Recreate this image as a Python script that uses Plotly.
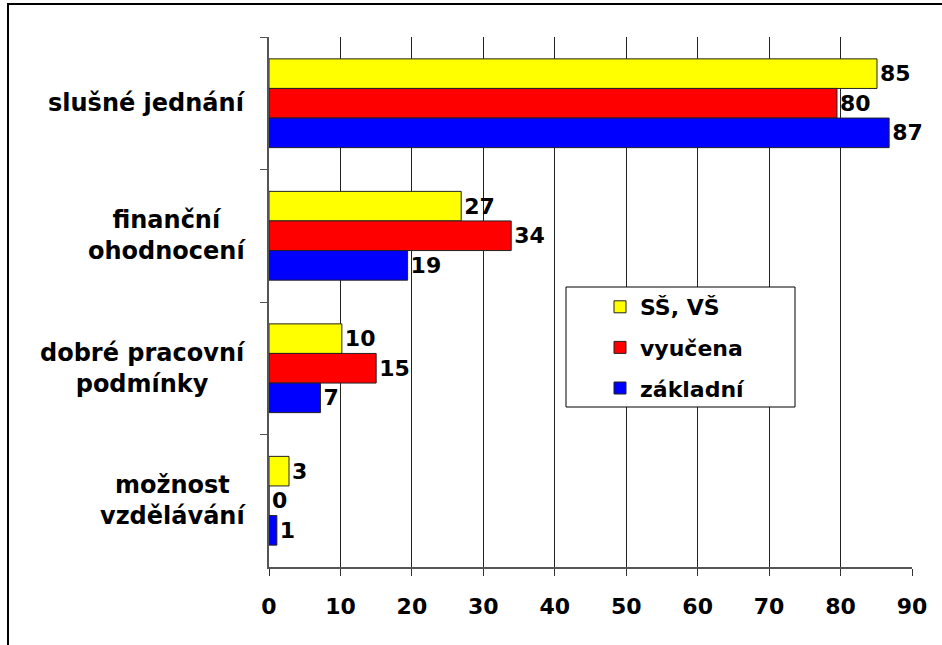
import plotly.graph_objects as go

categories = ["slušné jednání", "finanční<br>ohodnocení", "dobré pracovní<br>podmínky", "možnost<br>vzdělávání"]
series_names = ["SŠ, VŠ", "vyučena", "základní"]
ss_vs = [85.1, 26.9, 10.2, 2.8]
vyucena = [79.5, 33.9, 15.0, 0.0]
zakladni = [86.8, 19.4, 7.2, 1.1]
colors = ["#FFFF00", "#FF0000", "#0000FF"]
x_ticks = [0, 10, 20, 30, 40, 50, 60, 70, 80, 90]

FONT = "DejaVu Sans"
# plot area spans 269..912 x 37..567 on the page (body margin removed)
PL, PR, PT, PB = 269, 912, 37, 567
PW, PH = PR - PL, PB - PT

fig = go.Figure()
for name, vals, col in zip(series_names, [ss_vs, vyucena, zakladni], colors):
    fig.add_trace(go.Bar(
        y=categories, x=vals, name=name, orientation="h",
        marker=dict(color=col, line=dict(color="#222222", width=1)),
        text=vals, texttemplate="%{x:.0f}", textposition="outside",
        textfont=dict(family=FONT, size=22, color="black", weight="bold"),
        cliponaxis=False, legendgroup=name,
    ))

fig.update_layout(
    width=942, height=645,
    margin=dict(l=PL, r=942 - PR, t=PT, b=645 - PB),
    paper_bgcolor="white", plot_bgcolor="white",
    barmode="group", bargap=0.33, bargroupgap=0,
    font=dict(family=FONT, size=22, color="black"),
    showlegend=True,
    legend=dict(
        x=(600 - PL) / PW, y=(PB - 286) / PH, xanchor="left", yanchor="top",
        bgcolor="rgba(0,0,0,0)", borderwidth=0,
        font=dict(family=FONT, size=22, color="black", weight="bold"),
        tracegroupgap=9, itemwidth=30,
    ),
)
fig.update_xaxes(
    range=[0, 90], tickvals=x_ticks, ticktext=[str(v) for v in x_ticks],
    showgrid=True, gridcolor="#222222", gridwidth=1,
    showline=True, linecolor="#555555", linewidth=1.5,
    ticks="outside", ticklen=7, tickcolor="#333333",
    ticklabelstandoff=12,
    tickfont=dict(family=FONT, size=22, color="black", weight="bold"),
    zeroline=False,
)
fig.update_yaxes(
    autorange="reversed", showticklabels=False,
    showline=True, linecolor="#555555", linewidth=1.5,
    ticks="outside", ticklen=7, tickson="boundaries", tickcolor="#555555",
    showgrid=False,
)
for cat in categories:
    fig.add_annotation(
        x=0, xref="paper", xanchor="right", xshift=-21,
        y=cat, yref="y", yanchor="middle",
        text=cat, showarrow=False, align="center",
        font=dict(family=FONT, size=24, color="black", weight="bold"),
    )
# outer chart frame
fig.add_shape(type="rect", xref="paper", yref="paper",
              x0=(8 - PL) / PW, x1=1.2, y0=-0.3, y1=(PB - 4) / PH,
              line=dict(color="black", width=2), layer="below")
# legend frame
fig.add_shape(type="rect", xref="paper", yref="paper",
              x0=(566 - PL) / PW, x1=(795 - PL) / PW,
              y0=(PB - 407) / PH, y1=(PB - 287) / PH,
              line=dict(color="black", width=1), fillcolor="white", layer="above")
fig.write_html("out.html", config={"displayModeBar": False},
               post_script="document.body.style.margin='0';")
